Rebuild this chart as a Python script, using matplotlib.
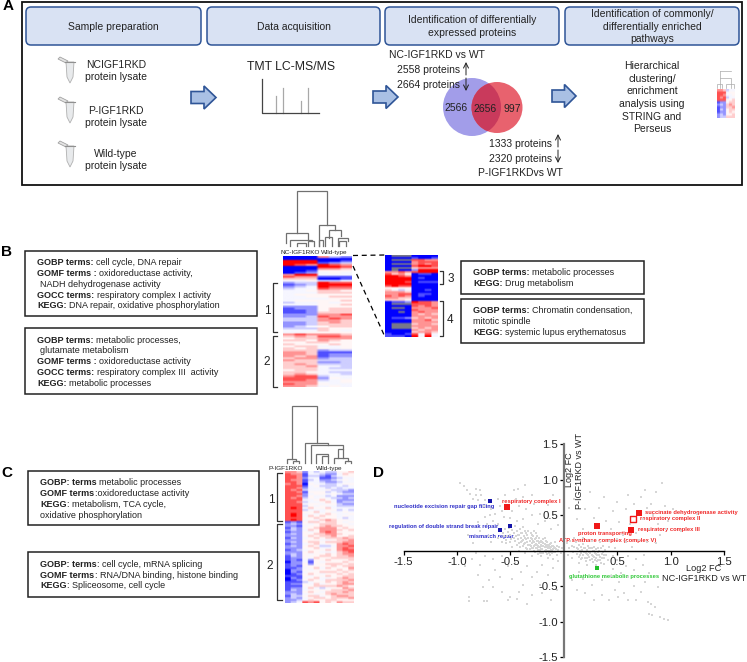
"""Proteomics workflow figure: panels A-D."""
import numpy as np
import matplotlib
matplotlib.use('Agg')
import matplotlib.pyplot as plt
from matplotlib.colors import LinearSegmentedColormap
from matplotlib.patches import Circle, FancyBboxPatch, Polygon, Rectangle

plt.rcParams['font.family'] = ['Liberation Sans', 'DejaVu Sans']

# Heat map rows: 0 = full blue, 9 = full red, - = no value
heat_b = """000732 000000 999001 999123 987987 000998 000776 001555 012454 799444
877111 666001 445334 233988 123999 234988 344877 445665 444666 455555
445566 444455 455556 344545 444556 222555 122566 112566 112666 222778
223877 333787 333776 223676 223666 234566 333655 444654 445555 787776
676887 566777 665765 556655 655565 566445 656545 666233 776111 776122
767122 677233 766333 666223 676333 667443 666433 566444 665433 676443
788344 888254 887345 777445 877544 776454""".split()
heat_inset = """0---0000 00001001 0---8877 00007888 0---7878 00008998 0---6777 0-002999
77878999 86750110 99870000 99990100 99990000 99980111 99990000 89880000
55550000 64340010 77760000 77880110 87870100 77660000 66650000 01129887
0---8887 00008787 0--07778 00008777 00-07877 00007676 00007777 01126767
00007786 00007777 0---6776 0---7777 0---6767 00007677 00006776 10018484
11109494""".split()
heat_c = """776243433556 877144322465 887133213455 887244112344 877134223454 887144322344
787054433455 888145333434 887244434344 878344453332 887155534322 888245545433
887254434222 878354543323 888445654222 887344564233 888455455322 888354544333
898465564444 888344455343 888556454454 898454565445 898465655454 888556555434
898454676554 121566566545 232545666554 221455676655 132556777565 232465777656
122545787555 232556677655 222565667556 132456566676 222555445667 232566566677
122456455787 232565334778 222556445787 123455565788 222565444678 232545565677
132555665667 122546556666 121425565556 022415455565 122525566656 121555556566
112456465557 022545555656 021455666565 012565455656 111545565566 021456445676
012565466667 111345565676 122546455677 111556666765 122464345576 132455556667
222565466676 232454567666 133566456776 232456656667 223465566555 234878565766""".split()
heat_icon = """776344 888455 887445 878344 888556 122566 232676 122667 132566 122565 232556 233666""".split()

# Panel D, gray background proteins (log2 FC NC-IGF1RKD, log2 FC P-IGF1RKD)
gray_pts = [
    (-.97, .95), (-.93, .91), (-.91, .85), (-.88, .80), (-.82, .86), (-.78, .85), (-.82, .78), (-.77, .78),
    (-.85, .73), (-.80, .71), (-.74, .71), (-.75, .62), (-.68, .59), (-.64, .52), (-.69, .50), (-.74, .47),
    (-.60, .62), (-.47, .85), (-.36, .92), (-.43, .87), (-.38, .75), (-.45, .73), (-.30, .78), (-.55, .78),
    (-.62, .72), (-.58, .55), (-.66, .42), (-.72, .38), (-.80, .40), (-.78, .28), (-.62, .38), (-.56, .47),
    (-.48, .55), (-.42, .62), (-.35, .58), (-.28, .66), (-.22, .52), (-.15, .64), (-.10, .78), (-.30, .50),
    (-.18, .42), (-.10, .50), (-.05, .36), (-.12, .30), (-.38, .45), (-.44, .42), (-.50, .46), (-.24, .38),
    (-.90, .22), (-.85, .10), (-.82, -.03), (-.68, .12), (-.70, .20), (-.62, .18), (-.74, -.08), (-.92, -.22),
    (-.86, -.12), (-.78, -.20), (-.66, -.12), (-.58, -.08), (-.64, -.28), (-.80, -.35), (-.70, -.42), (-.60, -.38),
    (-.52, -.22), (-.46, -.18), (-.40, -.30), (-.48, -.40), (-.34, -.22), (-.30, -.38), (-.38, -.48), (-.25, -.30),
    (-.20, -.20), (-.15, -.35), (-.22, -.48), (-.10, -.25), (-.05, -.15), (-.08, -.45), (-.89, -.65), (-.89, -.71),
    (-.75, -.71), (-.72, -.71), (-.50, -.65), (-.44, -.69), (-.52, -.70), (-.58, -.58), (-.42, -.58), (-.30, -.62),
    (-.20, -.60), (-.12, -.70), (-.06, -.55), (-.34, -.75), (-.66, -.52), (-.76, -.52),
    # dense band on the left
    (-.60, .28), (-.57, .24), (-.55, .30), (-.53, .20), (-.52, .26), (-.50, .22), (-.49, .16), (-.48, .29),
    (-.47, .24), (-.46, .13), (-.45, .20), (-.44, .27), (-.43, .16), (-.42, .10), (-.42, .22), (-.41, .30),
    (-.40, .18), (-.40, .12), (-.39, .25), (-.38, .07), (-.38, .15), (-.37, .20), (-.36, .10), (-.36, .28),
    (-.35, .16), (-.35, .04), (-.34, .12), (-.34, .22), (-.33, .08), (-.33, .18), (-.32, .02), (-.32, .13),
    (-.31, .25), (-.31, .07), (-.30, .16), (-.30, .10), (-.29, .03), (-.29, .20), (-.28, .12), (-.28, .06),
    (-.27, .16), (-.27, -.02), (-.26, .09), (-.26, .24), (-.25, .03), (-.25, .13), (-.24, .07), (-.24, -.05),
    (-.23, .18), (-.23, .10), (-.22, .01), (-.22, .05), (-.21, .14), (-.21, -.08), (-.20, .07), (-.20, .02),
    (-.19, .11), (-.19, -.03), (-.18, .05), (-.18, .18), (-.17, .01), (-.17, .08), (-.16, -.05), (-.16, .12),
    (-.15, .03), (-.15, -.10), (-.14, .07), (-.14, .00), (-.13, .04), (-.13, -.06), (-.12, .10), (-.12, .01),
    (-.11, -.03), (-.11, .06), (-.10, .02), (-.10, -.12), (-.09, .05), (-.08, -.02), (-.08, .12), (-.07, .02),
    (-.06, -.06), (-.06, .07), (-.05, .01), (-.04, .05), (-.03, -.03), (-.02, .03), (-.30, -.08), (-.36, -.04),
    (-.42, .00), (-.48, .05), (-.54, .10), (-.58, .12),
    (-.56, .20), (-.54, .15), (-.51, .31), (-.50, .12), (-.47, .18), (-.46, .34), (-.44, .08), (-.43, .22),
    (-.41, .05), (-.40, .24), (-.39, .14), (-.38, .33), (-.37, .09), (-.36, .18), (-.35, .24), (-.34, .02),
    (-.33, .28), (-.32, .08), (-.31, .18), (-.30, .03), (-.30, .22), (-.29, .14), (-.28, .27), (-.28, .00),
    (-.27, .08), (-.26, .18), (-.26, .03), (-.25, .08), (-.25, .20), (-.24, .14), (-.24, .01), (-.23, .05),
    (-.22, .12), (-.22, -.03), (-.21, .08), (-.21, .02), (-.20, .12), (-.20, -.04), (-.19, .06), (-.19, .16),
    (-.18, .00), (-.18, .09), (-.17, -.02), (-.17, .13), (-.16, .05), (-.16, .00), (-.15, .08), (-.14, .03),
    (-.14, -.03), (-.13, .09), (-.12, -.02), (-.12, .05), (-.11, .01), (-.10, .07), (-.09, -.02), (-.08, .03),
    # dense band on the right
    (.03, .10), (.05, .04), (.06, .14), (.08, .07), (.09, -.02), (.10, .05), (.11, .12), (.12, -.05),
    (.13, .02), (.14, .08), (.14, -.09), (.15, -.01), (.16, .05), (.16, -.12), (.17, .01), (.18, -.06),
    (.18, .09), (.19, -.02), (.20, .04), (.20, -.10), (.21, -.15), (.22, .01), (.22, -.05), (.23, .07),
    (.24, -.09), (.24, -.02), (.25, .03), (.25, -.13), (.26, -.06), (.27, .00), (.27, -.16), (.28, -.09),
    (.28, .05), (.29, -.03), (.30, -.11), (.30, .02), (.31, -.06), (.32, -.14), (.32, .04), (.33, -.01),
    (.34, -.09), (.35, .03), (.35, -.17), (.36, -.05), (.37, .06), (.38, -.10), (.39, .01), (.40, -.06),
    (.41, -.14), (.42, .05), (.10, .18), (.18, .17), (.26, .13), (.34, .12), (.42, .13), (.14, -.18),
    (.22, -.20), (.30, -.20), (.38, -.19), (.46, -.08), (.48, .03), (.50, -.14), (.08, -.10), (.04, -.06),
    (.12, .03), (.15, -.06), (.17, -.10), (.19, .03), (.21, -.03), (.22, -.11), (.23, -.07), (.24, .03),
    (.25, -.04), (.26, -.12), (.27, -.08), (.28, -.01), (.29, -.13), (.30, -.05), (.31, -.15), (.32, -.02),
    (.33, -.07), (.34, -.13), (.36, -.10), (.37, -.02), (.38, -.06), (.26, .04), (.20, -.02), (.16, -.03),
    # upper right
    (.05, .60), (.10, .72), (.12, .45), (.18, .30), (.20, .58), (.25, .82), (.28, .46), (.33, .60),
    (.38, .75), (.40, .42), (.44, .30), (.46, .55), (.50, .68), (.52, .40), (.55, .22), (.58, .58),
    (.60, .78), (.62, .38), (.66, .66), (.68, .25), (.72, .75), (.74, .44), (.76, .85), (.78, .60),
    (.80, .30), (.82, .66), (.84, .50), (.86, .82), (.88, .38), (.92, .95), (.95, .62), (.90, .22),
    (.98, .42), (1.02, .58), (.96, .30), (1.10, .28), (1.25, .52), (.70, .15), (.78, .12), (.86, .10),
    (.58, .12), (.64, .05), (.50, .16),
    # lower right
    (.98, -.98), (.94, -.96), (.90, -.93), (.83, -.91), (.80, -.89), (.85, -.79), (.82, -.75), (.79, -.72),
    (.68, -.70), (.60, -.70), (.51, -.65), (.56, -.60), (.48, -.55), (.42, -.70), (.36, -.62), (.28, -.70),
    (.20, -.60), (.12, -.55), (.08, -.42), (.18, -.40), (.26, -.48), (.36, -.42), (.44, -.36), (.52, -.44),
    (.60, -.38), (.66, -.50), (.72, -.58), (.76, -.45), (.58, -.22), (.66, -.28), (.74, -.20), (.80, -.32),
    (.46, -.26), (.54, -.32), (.88, -.52), (.14, -.30), (.68, -.12), (.60, -.08), (.75, -.06),
]
blue_x = [-.69, -.505, -.60]
blue_y = [.70, .34, .29]
red_x = [-.535, .70, .31, .625]
red_y = [.615, .525, .35, .29]
red_open_x = [.645]
red_open_y = [.45]
green_x = [.31]
green_y = [-.24]
ticks = [-1.5, -1.0, -0.5, 0.5, 1.0, 1.5]

dark = '#222222'
edge_blue = '#2f5597'
cmap = LinearSegmentedColormap.from_list('bwr2', ['#0000ff', '#ffffff', '#ff0000'])
cmap.set_bad('#77778a')

fig = plt.figure(figsize=(7.47, 6.62), dpi=100)
ax = fig.add_axes([0, 0, 1, 1])
ax.set_xlim(0, 747)
ax.set_ylim(662, 0)
ax.axis('off')


def put(x, y, s, size=7.5, ha='center', **kw):
    kw.setdefault('color', dark)
    if 'rotation' in kw:
        return ax.text(x, y, s, fontsize=size, ha=ha, va='center', **kw)
    # baseline alignment keeps the line spacing even
    return ax.text(x, y + 0.36 * size * 100 / 72, s, fontsize=size, ha=ha, va='baseline', **kw)


def rich(x, y, bold, rest, size=6.5):
    # bold lead-in followed by regular text
    t = put(x, y, bold, size, 'left', fontweight='bold')
    bb = t.get_window_extent(fig.canvas.get_renderer())
    gap = 0.5 if rest.startswith(':') else 2.5
    put(bb.x1 + gap, y, rest, size, 'left')


def box(x0, y0, x1, y1):
    ax.add_patch(Rectangle((x0, y0), x1 - x0, y1 - y0, fc='white', ec='#222222', lw=1.1))


def header(x0, x1, lines):
    ax.add_patch(FancyBboxPatch((x0 + 5, 12), x1 - x0 - 10, 28, boxstyle='round,pad=5',
                                fc='#d9e2f3', ec=edge_blue, lw=1.1))
    step = 12.7
    y = 26 - step * (len(lines) - 1) / 2
    for ln in lines:
        put((x0 + x1) / 2, y, ln)
        y += step


def block_arrow(x0, x1, yc):
    xm = x0 + (x1 - x0) * 0.52
    ax.add_patch(Polygon([(x0, yc - 6), (xm, yc - 6), (xm, yc - 11.5), (x1, yc), (xm, yc + 11.5),
                          (xm, yc + 6), (x0, yc + 6)], fc='#a9c0e4', ec=edge_blue, lw=1.2))


def tube(x, y):
    ax.add_patch(Polygon([(x - 12, y + 1), (x - 10, y - 1), (x - 2, y + 3), (x - 4, y + 5)],
                         fc='#e4e4e4', ec='#a0a0a0', lw=0.6))
    ax.add_patch(Polygon([(x - 4, y + 4), (x + 4, y + 4), (x + 3, y + 19), (x, y + 25), (x - 3, y + 19)],
                         fc='#e8eaec', ec='#b0b0b0', lw=0.6))
    ax.plot([x - 5, x + 5], [y + 4, y + 4], color='#909090', lw=0.8)


def thin_arrow(x, y0, y1):
    ax.annotate('', xy=(x, y1), xytext=(x, y0),
                arrowprops=dict(arrowstyle='->', lw=0.7, color=dark, mutation_scale=9, shrinkA=0, shrinkB=0))


def heat(rows, x0, x1, y0, y1):
    vals = np.array([[np.nan if c == '-' else (int(c) - 4.5) / 4.5 for c in r] for r in rows])
    # pale middle range, repeat the columns so the smoothing stays narrow
    vals = np.sign(vals) * np.abs(vals) ** 1.5
    vals = np.repeat(vals, 4, axis=1)
    ax.imshow(vals, cmap=cmap, vmin=-1, vmax=1, aspect='auto', interpolation='bilinear',
              extent=(x0, x1, y1, y0), zorder=2)


def bracket(x0, x1, y0, y1, side='left'):
    xs = [x1, x0, x0, x1] if side == 'left' else [x0, x1, x1, x0]
    ax.plot(xs, [y0, y0, y1, y1], color='#333333', lw=0.9)


def tree(segs, color='#707070', lw=0.9):
    # each entry: x0, x1, top y, bottom y of the left and right leg
    for x0, x1, yt, yb0, yb1 in segs:
        ax.plot([x0, x0, x1, x1], [yb0, yt, yt, yb1], color=color, lw=lw, solid_joinstyle='miter')


# Panel A
for s, x, y in [('A', 8, 6), ('B', 6, 252), ('C', 7, 473), ('D', 379, 473)]:
    ax.text(x, y, s, fontsize=11, fontweight='bold', ha='center', va='center', color='black')
ax.add_patch(Rectangle((22, 1.5), 720, 183.5, fc='none', ec='#111111', lw=1.3))
header(26, 201, ['Sample preparation'])
header(207, 380, ['Data acquisition'])
header(385, 559, ['Identification of differentially', 'expressed proteins'])
header(565, 739, ['Identification of commonly/', 'differentially enriched', 'pathways'])

for ty, l1, l2, y1 in [(58, 'NCIGF1RKD', 'protein lysate', 64), (98, 'P-IGF1RKD', 'protein lysate', 110),
                       (142, 'Wild-type', 'protein lysate', 153)]:
    tube(70, ty)
    put(116, y1, l1)
    put(116, y1 + 12.7, l2)
block_arrow(191, 216, 97.5)
block_arrow(373, 398, 97)
block_arrow(552, 576, 96)

put(291, 66, 'TMT LC-MS/MS', 8.8)
for px, top in [(276, 96), (283, 88), (301, 101), (308, 88)]:
    ax.plot([px, px], [113, top], color='#a8a8a8', lw=0.9)
ax.plot([262, 262, 319], [79, 113, 113], color='#444444', lw=0.9)

ax.add_patch(Circle((472, 107), 29, fc='#a29de9', ec='none'))
ax.add_patch(Circle((497, 107.5), 25.5, fc='#e8626e', ec='none'))
# overlap of the two circles
lens = Circle((472, 107), 29, fc='#c93a5c', ec='none')
ax.add_patch(lens)
lens.set_clip_path(Circle((497, 107.5), 25.5, transform=ax.transData))
put(437, 54, 'NC-IGF1RKD vs WT')
put(397, 69, '2558 proteins', ha='left')
thin_arrow(466, 75, 62)
put(397, 84, '2664 proteins', ha='left')
thin_arrow(466, 78, 91)
put(456, 107, '2566')
put(485, 108, '2656')
put(512, 108, '997')
put(489, 143, '1333 proteins', ha='left')
thin_arrow(558, 147, 134)
put(489, 158, '2320 proteins', ha='left')
thin_arrow(558, 150, 163)
put(520, 172, 'P-IGF1RKDvs WT')
for ln, y in zip(['Hierarchical', 'clustering/', 'enrichment', 'analysis using', 'STRING and', 'Perseus'],
                 [65, 78, 90, 103, 116, 128]):
    put(652, y, ln)
heat(heat_icon, 717, 735, 89, 118)
tree([(720, 731, 78, 88, 88), (717, 722, 84, 88, 88), (726, 734, 84, 88, 88)], '#aaaaaa', 0.5)
ax.plot([720, 720], [71, 78], color='#aaaaaa', lw=0.5)
ax.plot([720, 731], [71, 71], color='#aaaaaa', lw=0.5)

# Panel B
box(25, 251, 257, 316)
rich(37, 262, 'GOBP terms:', 'cell cycle, DNA repair')
rich(37, 273, 'GOMF terms :', 'oxidoreductase activity,')
put(40, 284, 'NADH dehydrogenase activity', 6.5, 'left')
rich(37, 295, 'GOCC terms:', 'respiratory complex I activity')
rich(37, 305, 'KEGG:', 'DNA repair, oxidative phosphorylation')
box(25, 328, 257, 394)
rich(37, 340, 'GOBP terms:', 'metabolic processes,')
put(40, 350, 'glutamate metabolism', 6.5, 'left')
rich(37, 361, 'GOMF terms :', 'oxidoreductase activity')
rich(37, 372, 'GOCC terms:', 'respiratory complex III  activity')
rich(37, 383, 'KEGG:', 'metabolic processes')

heat(heat_b, 283, 352, 256, 387)
tree([(297, 327, 191, 233, 225), (286, 308, 233, 243, 240), (319, 335, 225, 246, 230),
      (329, 341, 230, 238, 236), (325, 332, 237, 246, 246), (338, 348, 238, 246, 241),
      (290, 312, 240, 246, 241), (297, 306, 243, 246, 246), (308, 314, 241, 246, 246),
      (339, 346, 241, 246, 246), (319, 323, 240, 246, 246)])
put(300, 252, 'NC-IGF1RKO', 4.6)
put(334, 252, 'Wild-type', 4.6)
bracket(273, 277, 283, 332)
bracket(273, 277, 336, 387)
put(267, 310, '1', 8.5)
put(267, 361, '2', 8.5)

heat(heat_inset, 385, 438, 255, 337)
ax.plot([353, 385], [255.5, 255], color='black', lw=0.9, ls=(0, (4, 3)))
ax.plot([353, 385], [266, 337], color='black', lw=0.9, ls=(0, (4, 3)))
bracket(440, 443, 271, 284, 'right')
bracket(440, 443, 301, 336, 'right')
put(451, 278, '3', 8.5)
put(450, 319, '4', 8.5)
box(461, 261, 644, 294)
rich(473, 272, 'GOBP terms:', 'metabolic processes')
rich(473, 283, 'KEGG:', 'Drug metabolism')
box(461, 299, 644, 343)
rich(473, 310, 'GOBP terms:', 'Chromatin condensation,')
put(473, 321, 'mitotic spindle', 6.5, 'left')
rich(473, 332, 'KEGG:', 'systemic lupus erythematosus')

# Panel C
box(28, 471, 259, 525)
rich(40, 482, 'GOBP: terms', 'metabolic processes')
rich(40, 493, 'GOMF terms', ':oxidoreductase activity')
rich(40, 504, 'KEGG', ': metabolism, TCA cycle,')
put(40, 515, 'oxidative phosphorylation', 6.5, 'left')
box(28, 552, 259, 597)
rich(40, 564, 'GOBP: terms', ': cell cycle, mRNA splicing')
rich(40, 575, 'GOMF terms', ': RNA/DNA binding, histone binding')
rich(40, 585, 'KEGG', ': Spliceosome, cell cycle')

heat(heat_c, 285, 354, 471, 603)
tree([(292, 317, 406, 459, 443), (287, 296, 459, 463, 461), (293, 299, 461, 463, 463),
      (305, 328, 443, 463, 445), (311, 343, 445, 463, 449), (316, 328, 454, 463, 456),
      (322, 328, 456, 463, 463), (334, 348, 458, 463, 461), (338, 343, 449, 458, 458),
      (345, 351, 461, 463, 463)])
put(286, 468, 'P-IGF1RKO', 4.6)
put(329, 468, 'Wild-type', 4.6)
bracket(277, 282, 473, 521)
bracket(277, 282, 524, 600)
put(271, 499, '1', 8.5)
put(270, 565, '2', 8.5)

# Panel D
W, H = 747.0, 662.0
axd = fig.add_axes([403.5 / W, 1 - 657 / H, 320.5 / W, 213 / H])
axd.patch.set_alpha(0)
axd.set_xlim(-1.5, 1.5)
axd.set_ylim(-1.5, 1.5)
gray = np.array(gray_pts)
axd.scatter(gray[:, 0], gray[:, 1], s=4.5, marker='s', c='#d6d6d6', linewidths=0, zorder=1)
axd.scatter(blue_x, blue_y, s=11, marker='s', c='#1414a8', linewidths=0, zorder=3)
axd.scatter(red_x, red_y, s=13, marker='s', c='#f01818', linewidths=0, zorder=3)
axd.scatter(red_open_x, red_open_y, s=14, marker='s', facecolors='white', edgecolors='#f01818', linewidths=1.0, zorder=3)
axd.scatter(green_x, green_y, s=11, marker='s', c='#22c02a', linewidths=0, zorder=3)
for side in ['top', 'right']:
    axd.spines[side].set_visible(False)
axd.spines['left'].set_position('zero')
axd.spines['bottom'].set_position('zero')
axd.spines['left'].set_color('#777777')
axd.spines['left'].set_linewidth(1.6)
axd.spines['bottom'].set_linewidth(1.0)
axd.set_xticks(ticks)
axd.set_yticks(ticks)
axd.set_xticklabels([f'{t:.1f}' for t in ticks], fontsize=8.2, color=dark)
axd.set_yticklabels([f'{t:.1f}' for t in ticks], fontsize=8.2, color=dark)
axd.tick_params(axis='x', length=3, width=0.9, pad=1.5)
axd.tick_params(axis='y', length=3, width=0.9, pad=1)

put(569, 470, 'Log2 FC', 6.5, rotation=90, zorder=5)
put(580, 471, 'P-IGF1RKD vs WT', 6.5, rotation=90, zorder=5)
put(704, 568, 'Log2 FC', 6.6, zorder=5)
put(704, 578, 'NC-IGF1RKD vs WT', 6.6, zorder=5)

blue_c, red_c, green_c = '#3030c8', '#f02828', '#30c838'
for s, x, y, c in [('nucleotide excision repair gap filling', 394, 506, blue_c),
                   ('regulation of double strand break repair', 389, 526, blue_c),
                   ('mismatch repair', 469, 536, blue_c),
                   ('respiratory complex I', 502, 501, red_c),
                   ('succinate dehydrogenase activity', 645, 512, red_c),
                   ('respiratory complex II', 640, 518, red_c),
                   ('respiratory complex III', 638, 529, red_c),
                   ('proton transporting', 578, 533, red_c),
                   ('ATP synthase complex (complex V)', 559, 540, red_c),
                   ('glutathione metabolic processes', 569, 576, green_c)]:
    t = put(x, y, s, 4.15, 'left', color=c, fontweight='bold', zorder=6)
    t.set_clip_on(False)

ax.set_xlim(0, 747)
ax.set_ylim(662, 0)
fig.savefig('out.png', dpi=100)
